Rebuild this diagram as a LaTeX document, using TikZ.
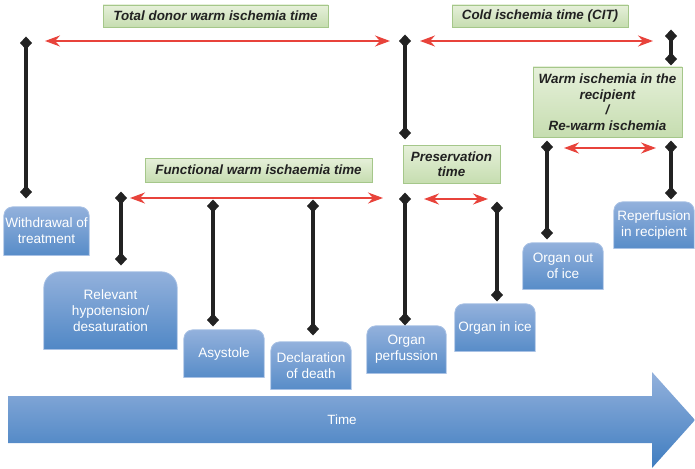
\documentclass[tikz,border=0pt]{standalone}
\usepackage{fontspec}
\setmainfont{Liberation Sans}
\usetikzlibrary{arrows.meta}
\pgfdeclarelayer{bg}
\pgfsetlayers{bg,main}
\definecolor{btop}{HTML}{93B1DC}
\definecolor{bbot}{HTML}{3F7DC0}
\definecolor{bedge}{HTML}{A8C1E4}
\definecolor{gtop}{HTML}{E6F0DA}
\definecolor{gbot}{HTML}{C6DDB0}
\definecolor{gedge}{HTML}{A5C78A}
\definecolor{redarr}{HTML}{E8433B}
\definecolor{blk}{HTML}{222222}
\tikzset{
  event/.style={inner sep=0pt, align=center, text=white, font=\fontsize{13.6}{16}\selectfont},
  period/.style={inner sep=0pt, align=center, text=blk, draw=gedge, line width=0.9pt,
    top color=gtop, bottom color=gbot, font=\fontsize{13.4}{15.5}\selectfont\bfseries\itshape},
  marker/.style={draw=blk, line width=3.2pt,
    {Turned Square[length=13pt,width=12pt]}-{Turned Square[length=13pt,width=12pt]}},
  span/.style={draw=redarr, line width=2pt,
    {Stealth[length=15pt,width=11pt,inset=5pt]}-{Stealth[length=15pt,width=11pt,inset=5pt]}},
}
\newcommand\evbg[2]{%
  \begin{pgfonlayer}{bg}
  \begin{scope}
    \clip ([xshift=-1pt,yshift=1pt]#1.north west) rectangle ([xshift=1pt]#1.south east);
    \path[draw=bedge, line width=0.8pt, top color=btop, bottom color=bbot, rounded corners=#2pt]
      ([yshift=-20pt]#1.south west) rectangle (#1.north east);
  \end{scope}
  \draw[bedge, line width=0.8pt] (#1.south west) -- (#1.south east);
  \end{pgfonlayer}}
\begin{document}
\begin{tikzpicture}[x=1pt,y=-1pt]
\useasboundingbox (0,0) rectangle (695,468);

% time arrow
\path[top color=btop, bottom color=bbot]
  (8,396) -- (652,396) -- (652,372) -- (695,420) -- (652,468) -- (652,443) -- (8,443) -- cycle;
\node[event, font=\fontsize{13.4}{16}\selectfont] (time) at (342,420) {Time};

% events
\node[event, minimum width=85pt, minimum height=48pt] (wd) at (46.5,231) {Withdrawal of\\treatment};
\node[event, minimum width=133pt, minimum height=77pt] (rh) at (110.5,310.5) {Relevant\\hypotension/\\desaturation};
\node[event, minimum width=80pt, minimum height=47pt] (as) at (224,353.5) {Asystole};
\node[event, minimum width=80pt, minimum height=47pt] (dd) at (311,365.5) {Declaration\\of death};
\node[event, minimum width=79pt, minimum height=47pt] (op) at (406.5,349.5) {Organ\\perfussion};
\node[event, minimum width=80pt, minimum height=47pt] (oi) at (495,327.5) {Organ in ice};
\node[event, minimum width=80pt, minimum height=46pt] (oo) at (563,266) {Organ out\\of ice};
\node[event, minimum width=80pt, minimum height=46pt] (rp) at (654,225) {Reperfusion\\in recipient};
\evbg{wd}{9}
\evbg{rh}{16}
\evbg{as}{9}
\evbg{dd}{9}
\evbg{op}{9}
\evbg{oi}{9}
\evbg{oo}{9}
\evbg{rp}{9}

% periods
\node[period, minimum width=225pt, minimum height=22pt] (tdw) at (215.5,16) {Total donor warm ischemia time};
\node[period, minimum width=176pt, minimum height=22pt] (cit) at (540,16) {Cold ischemia time (CIT)};
\node[period, minimum width=149pt, minimum height=70pt] (wir) at (607.5,102) {Warm ischemia in the\\recipient\\/\\Re-warm ischemia};
\node[period, minimum width=227pt, minimum height=24pt] (fwi) at (258.5,170) {Functional warm ischaemia time};
\node[period, minimum width=97pt, minimum height=38pt] (pt) at (451.5,164) {Preservation\\time};

% marker coordinates
\coordinate (m1a) at (26,36.5);   \coordinate (m1b) at (26,198.5);
\coordinate (m2a) at (405,34.5);  \coordinate (m2b) at (405,139.5);
\coordinate (m3a) at (671,29.5);  \coordinate (m3b) at (671,65.5);
\coordinate (m4a) at (547,140.5); \coordinate (m4b) at (547,239.5);
\coordinate (m5a) at (671,140.5); \coordinate (m5b) at (671,199.5);
\coordinate (m6a) at (121,191.5); \coordinate (m6b) at (121,265.5);
\coordinate (m7a) at (213,199.5); \coordinate (m7b) at (213,326.5);
\coordinate (m8a) at (313,199.5); \coordinate (m8b) at (313,335.5);
\coordinate (m9a) at (405,192.5); \coordinate (m9b) at (405,325.5);
\coordinate (m10a) at (497,201.5); \coordinate (m10b) at (497,301.5);
\foreach \i in {1,...,10} {\draw[marker] (m\i a) -- (m\i b);}

% spans
\coordinate (s1a) at (45,41);  \coordinate (s1b) at (390,41);
\coordinate (s2a) at (420,41); \coordinate (s2b) at (653,41);
\coordinate (s3a) at (564,148); \coordinate (s3b) at (656,148);
\coordinate (s4a) at (130,198); \coordinate (s4b) at (383,198);
\coordinate (s5a) at (424,199); \coordinate (s5b) at (488,199);
\foreach \i in {1,...,5} {\draw[span] (s\i a) -- (s\i b);}
\end{tikzpicture}
\end{document}
